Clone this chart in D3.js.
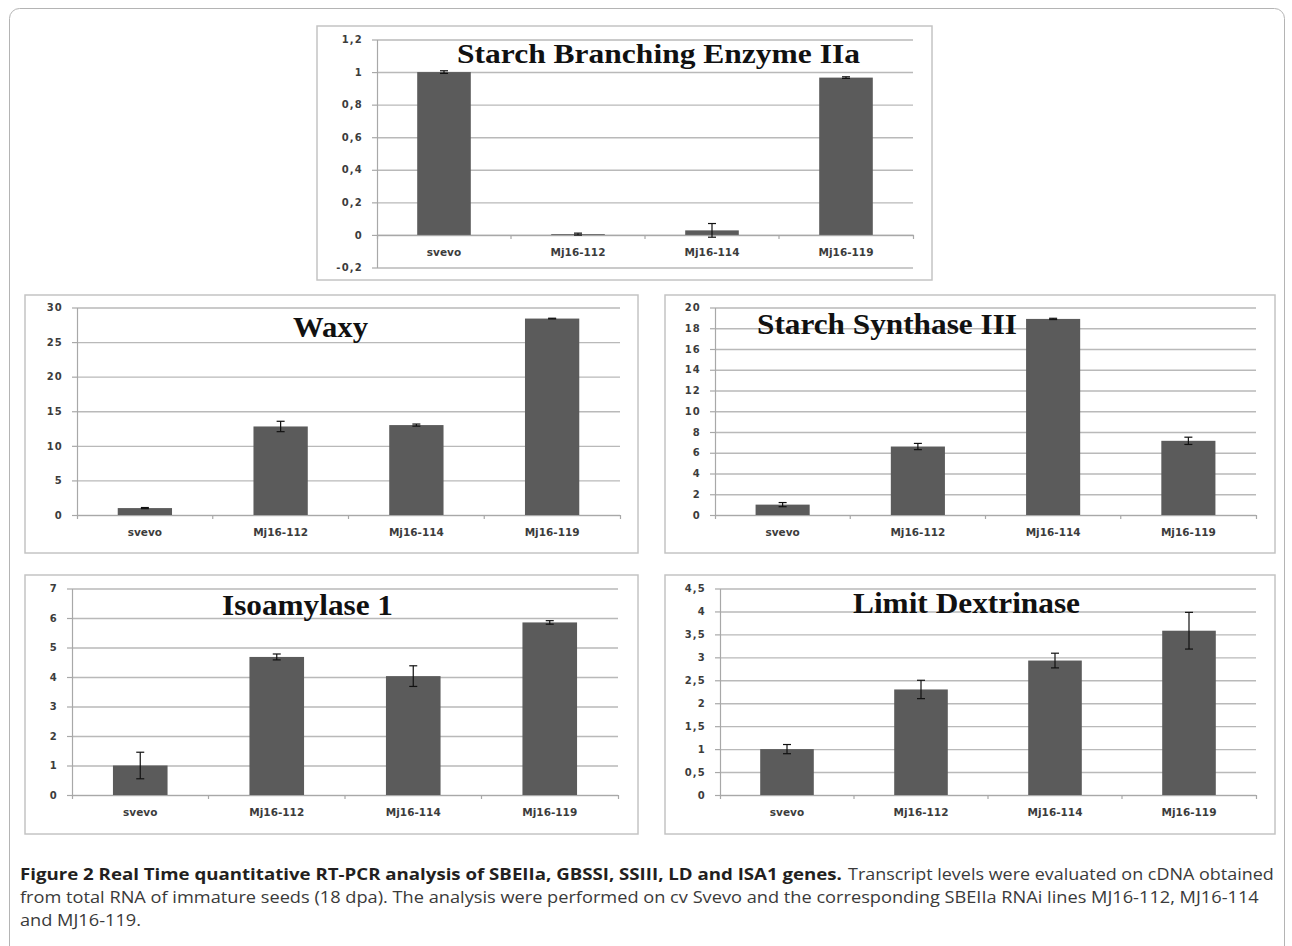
<!DOCTYPE html>
<html>
<head>
<meta charset="utf-8">
<script src="https://cdn.jsdelivr.net/npm/d3@7"></script>
<style>
  body { margin: 0; background: #ffffff; }
  svg { display: block; }
</style>
</head>
<body>
<svg id="fig" width="1292" height="946"></svg>
<script>
// categories shared by all five panels
var categories = ["svevo", "Mj16-112", "Mj16-114", "Mj16-119"];

// Starch Branching Enzyme IIa
var sbeValues = [1.0, 0.005, 0.028, 0.966];
var sbeErrors = [0.008, 0.006, 0.042, 0.005];
var sbeTicks = [-0.2, 0, 0.2, 0.4, 0.6, 0.8, 1, 1.2];

// Waxy (GBSSI)
var waxyValues = [1.0, 12.8, 13.0, 28.4];
var waxyErrors = [0.08, 0.75, 0.15, 0.05];
var waxyTicks = [0, 5, 10, 15, 20, 25, 30];

// Starch Synthase III
var ss3Values = [1.0, 6.6, 18.9, 7.15];
var ss3Errors = [0.2, 0.3, 0.06, 0.35];
var ss3Ticks = [0, 2, 4, 6, 8, 10, 12, 14, 16, 18, 20];

// Isoamylase 1
var isaValues = [1.0, 4.68, 4.03, 5.85];
var isaErrors = [0.45, 0.1, 0.35, 0.06];
var isaTicks = [0, 1, 2, 3, 4, 5, 6, 7];

// Limit Dextrinase
var ldValues = [1.0, 2.3, 2.93, 3.58];
var ldErrors = [0.1, 0.2, 0.16, 0.4];
var ldTicks = [0, 0.5, 1, 1.5, 2, 2.5, 3, 3.5, 4, 4.5];

var captionBold = "Figure 2 Real Time quantitative RT-PCR analysis of SBEIIa, GBSSI, SSIII, LD and ISA1 genes.";
var captionLines = [
    "Transcript levels were evaluated on cDNA obtained",
    "from total RNA of immature seeds (18 dpa). The analysis were performed on cv Svevo and the corresponding SBEIIa RNAi lines MJ16-112, MJ16-114",
    "and MJ16-119."
];

// panel layout (box, plot area, title placement)
var panels = [
    {title: "Starch Branching Enzyme IIa", values: sbeValues, errors: sbeErrors, ticks: sbeTicks,
     box: [317, 26, 932, 280], plot: [377, 39.5, 913, 267.5], tx: 457, ty: 63, tlen: 403, tsize: 28},
    {title: "Waxy", values: waxyValues, errors: waxyErrors, ticks: waxyTicks,
     box: [25, 295, 638, 553], plot: [77, 307.5, 620, 515], tx: 293, ty: 337, tlen: 75, tsize: 30},
    {title: "Starch Synthase III", values: ss3Values, errors: ss3Errors, ticks: ss3Ticks,
     box: [665, 295, 1275, 553], plot: [715, 307.5, 1256, 515], tx: 757, ty: 334, tlen: 260, tsize: 30},
    {title: "Isoamylase 1", values: isaValues, errors: isaErrors, ticks: isaTicks,
     box: [25, 575, 638, 834], plot: [72, 588.5, 618, 795], tx: 222, ty: 615, tlen: 171, tsize: 30},
    {title: "Limit Dextrinase", values: ldValues, errors: ldErrors, ticks: ldTicks,
     box: [665, 575, 1275, 834], plot: [720, 588.5, 1256, 795], tx: 853, ty: 613, tlen: 227, tsize: 30}
];

var svg = d3.select("#fig");

// outer frame of the figure
svg.append("rect")
    .attr("x", 9.5).attr("y", 8.5)
    .attr("width", 1275).attr("height", 1000)
    .attr("rx", 10)
    .attr("fill", "none")
    .attr("stroke", "#b4b4b4")
    .attr("stroke-width", 1);

var fmt = function(v){ return String(v).replace(".", ","); };

var drawPanel = function(p){
    var g = svg.append("g");

    g.append("rect")
        .attr("x", p.box[0]).attr("y", p.box[1])
        .attr("width", p.box[2] - p.box[0]).attr("height", p.box[3] - p.box[1])
        .attr("fill", "#ffffff")
        .attr("stroke", "#c4c4c4")
        .attr("stroke-width", 1.5);

    var x = d3.scaleBand()
        .domain(categories)
        .range([p.plot[0], p.plot[2]])
        .paddingInner(0.6)
        .paddingOuter(0.3);
    var y = d3.scaleLinear()
        .domain([p.ticks[0], p.ticks[p.ticks.length - 1]])
        .range([p.plot[3], p.plot[1]]);
    var w = p.plot[2] - p.plot[0];

    // gridlines
    var grid = g.append("g")
        .attr("transform", "translate(" + p.plot[0] + ",0)")
        .call(d3.axisLeft(y).tickValues(p.ticks).tickSize(-w).tickFormat(""));
    grid.select(".domain").remove();
    grid.selectAll("line").attr("stroke", "#b9b9b9").attr("stroke-width", 1.4);

    // y axis with labels
    var ya = g.append("g")
        .attr("transform", "translate(" + p.plot[0] + ",0)")
        .call(d3.axisLeft(y).tickValues(p.ticks).tickSize(5).tickSizeOuter(0).tickPadding(9).tickFormat(fmt));
    ya.select(".domain").attr("stroke", "#a8a8a8").attr("stroke-width", 1.2);
    ya.selectAll("line").attr("stroke", "#a8a8a8").attr("stroke-width", 1.2);
    ya.selectAll("text")
        .attr("fill", "#3c3c3c")
        .attr("font-family", "DejaVu Sans, sans-serif")
        .attr("font-weight", "bold")
        .attr("font-size", 10)
        .attr("letter-spacing", 1.2);

    // x axis at zero
    var xa = g.append("g")
        .attr("transform", "translate(0," + y(0) + ")")
        .call(d3.axisBottom(x).tickSizeInner(0).tickSizeOuter(4).tickPadding(14));
    xa.select(".domain").attr("stroke", "#a8a8a8").attr("stroke-width", 1.2);
    xa.selectAll("text")
        .attr("fill", "#3c3c3c")
        .attr("font-family", "DejaVu Sans, sans-serif")
        .attr("font-weight", "bold")
        .attr("font-size", 10.5);

    // category boundary ticks
    g.selectAll("line.sep")
        .data(categories.slice(1))
        .enter()
        .append("line")
        .attr("class", "sep")
        .attr("x1", function(d){ return x(d) - x.step() * 0.3; })
        .attr("x2", function(d){ return x(d) - x.step() * 0.3; })
        .attr("y1", y(0))
        .attr("y2", y(0) + 4)
        .attr("stroke", "#a8a8a8")
        .attr("stroke-width", 1.2);

    // bars
    g.selectAll("rect.bar")
        .data(p.values)
        .enter()
        .append("rect")
        .attr("class", "bar")
        .attr("x", function(d, i){ return x(categories[i]); })
        .attr("width", x.bandwidth())
        .attr("y", function(d){ return y(Math.max(0, d)); })
        .attr("height", function(d){ return Math.abs(y(0) - y(d)); })
        .attr("fill", "#5b5b5b");

    // error bars
    var eb = g.selectAll("g.err")
        .data(p.values)
        .enter()
        .append("g")
        .attr("class", "err")
        .attr("stroke", "#111111")
        .attr("stroke-width", 1.2);
    eb.append("line")
        .attr("x1", function(d, i){ return x(categories[i]) + x.bandwidth() / 2; })
        .attr("x2", function(d, i){ return x(categories[i]) + x.bandwidth() / 2; })
        .attr("y1", function(d, i){ return y(d + p.errors[i]); })
        .attr("y2", function(d, i){ return y(d - p.errors[i]); });
    [1, -1].forEach(function(s){
        eb.append("line")
            .attr("x1", function(d, i){ return x(categories[i]) + x.bandwidth() / 2 - 4; })
            .attr("x2", function(d, i){ return x(categories[i]) + x.bandwidth() / 2 + 4; })
            .attr("y1", function(d, i){ return y(d + s * p.errors[i]); })
            .attr("y2", function(d, i){ return y(d + s * p.errors[i]); });
    });

    // title
    g.append("text")
        .attr("x", p.tx)
        .attr("y", p.ty)
        .attr("textLength", p.tlen)
        .attr("lengthAdjust", "spacingAndGlyphs")
        .attr("font-family", "Liberation Serif, Times New Roman, serif")
        .attr("font-weight", "bold")
        .attr("font-size", p.tsize)
        .attr("fill", "#111111")
        .text(p.title);
};

panels.forEach(drawPanel);

// caption: condensed look by squeezing text horizontally
var capSize = 16.5;
var cap = svg.append("g")
    .attr("font-family", "Open Sans, Noto Sans, sans-serif")
    .attr("font-size", capSize);

var addLine = function(txt, bold){
    return cap.append("text")
        .attr("x", 0).attr("y", 0)
        .attr("font-weight", bold ? "bold" : "normal")
        .attr("fill", bold ? "#231f20" : "#3a3a3a")
        .text(txt);
};

var boldT = addLine(captionBold, true);
var l1 = addLine(captionLines[0]);
var l2 = addLine(captionLines[1]);
var l3 = addLine(captionLines[2]);

// squeeze factor taken from the full second line
var k = 1240 / l2.node().getComputedTextLength();
var kb = 822 / boldT.node().getComputedTextLength();
var k1 = 426 / l1.node().getComputedTextLength();
boldT.attr("transform", "translate(20,880) scale(" + kb + ",1)");
l1.attr("transform", "translate(848,880) scale(" + k1 + ",1)");
l2.attr("transform", "translate(20,903) scale(" + k + ",1)");
l3.attr("transform", "translate(20,926) scale(" + k + ",1)");
</script>
</body>
</html>
